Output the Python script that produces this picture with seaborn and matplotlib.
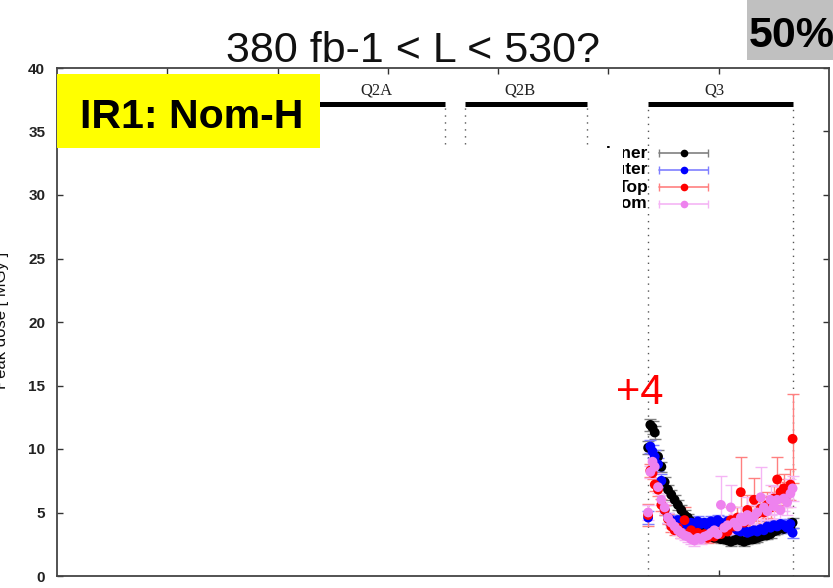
import numpy as np
import pandas as pd
import matplotlib
matplotlib.use("Agg")
import matplotlib.pyplot as plt
from matplotlib.patches import Rectangle
from matplotlib.lines import Line2D
import seaborn as sns

# ---------------- data ----------------
x_pos = [53.6, 53.8, 54.0, 54.2, 54.5, 54.8, 55.1, 55.4, 55.7, 56.0, 56.3, 56.6,
         56.9, 57.2, 57.5, 57.8, 58.1, 58.4, 58.7, 59.0, 59.3, 59.6, 59.9, 60.2,
         60.5, 60.8, 61.1, 61.4, 61.7, 62.0, 62.3, 62.6, 62.9, 63.2, 63.5, 63.8,
         64.1, 64.4, 64.7, 65.0, 65.3, 65.6, 65.9, 66.2, 66.5, 66.7]

inner = [10.1, 11.9, 11.7, 11.3, 9.4, 8.6, 7.4, 6.8, 6.4, 6.0, 5.6, 5.2,
         4.8, 4.6, 4.3, 4.0, 3.7, 3.5, 3.3, 3.2, 3.1, 3.0, 3.0, 2.9,
         2.9, 2.8, 2.7, 2.8, 2.9, 2.8, 2.7, 2.8, 2.9, 2.9, 3.0, 3.1,
         3.2, 3.2, 3.3, 3.5, 3.6, 3.8, 3.7, 3.9, 3.8, 4.2]
inner_err = [0.5, 0.5, 0.5, 0.5, 0.5, 0.4, 0.4, 0.4, 0.4, 0.4, 0.4, 0.4,
             0.4, 0.3, 0.3, 0.3, 0.3, 0.3, 0.3, 0.3, 0.3, 0.3, 0.3, 0.3,
             0.3, 0.3, 0.3, 0.3, 0.3, 0.3, 0.3, 0.3, 0.3, 0.3, 0.3, 0.3,
             0.3, 0.3, 0.3, 0.3, 0.3, 0.3, 0.3, 0.3, 0.3, 0.4]

outer = [4.6, 10.2, 9.8, 9.4, 8.8, 7.5, 5.2, 4.6, 4.4, 4.2, 4.4, 4.1,
         4.3, 4.0, 4.2, 4.0, 4.3, 4.1, 4.2, 4.0, 4.3, 4.1, 4.4, 4.2,
         4.0, 4.3, 4.0, 3.8, 3.6, 3.5, 3.6, 3.4, 3.5, 3.6, 3.5, 3.7,
         3.6, 3.9, 3.8, 4.0, 3.9, 4.1, 4.0, 3.8, 4.1, 3.4]
outer_err = [0.5, 0.5, 0.5, 0.5, 0.5, 0.5, 0.4, 0.4, 0.4, 0.4, 0.4, 0.4,
             0.4, 0.4, 0.4, 0.4, 0.4, 0.4, 0.4, 0.4, 0.4, 0.4, 0.4, 0.4,
             0.4, 0.4, 0.4, 0.4, 0.4, 0.4, 0.4, 0.4, 0.4, 0.4, 0.4, 0.4,
             0.4, 0.4, 0.4, 0.4, 0.4, 0.4, 0.4, 0.4, 0.4, 0.4]

top = [4.8, 8.3, 8.1, 7.2, 6.8, 5.6, 5.2, 4.5, 3.9, 3.6, 3.8, 3.4,
       4.4, 3.3, 3.6, 3.2, 3.4, 3.1, 3.3, 3.0, 3.2, 3.1, 3.4, 3.3,
       3.8, 3.5, 4.4, 3.9, 4.6, 6.6, 4.2, 5.2, 4.7, 6.0, 4.9, 5.3,
       5.0, 5.6, 5.4, 6.1, 7.6, 6.6, 6.9, 6.4, 7.2, 10.8]
top_err = [0.9, 0.5, 0.5, 0.5, 0.5, 0.5, 0.4, 0.4, 0.4, 0.4, 0.4, 0.4,
           1.0, 0.4, 0.4, 0.4, 0.4, 0.4, 0.4, 0.4, 0.4, 0.4, 0.5, 0.4,
           0.6, 0.5, 1.0, 0.6, 0.8, 2.8, 0.7, 1.2, 0.8, 1.7, 0.8, 0.9,
           0.8, 1.0, 0.9, 1.0, 1.8, 1.0, 1.1, 1.0, 1.2, 3.5]

bottom = [5.0, 8.2, 9.0, 8.6, 7.0, 6.0, 5.4, 4.6, 4.2, 3.9, 3.6, 3.4,
          3.2, 3.1, 2.9, 2.8, 3.0, 2.9, 3.1, 3.2, 3.4, 3.6, 3.3, 5.6,
          3.8, 4.0, 5.4, 4.2, 3.9, 4.6, 4.3, 4.8, 4.4, 4.7, 5.0, 6.2,
          5.4, 5.1, 6.0, 5.5, 6.0, 5.2, 6.1, 5.8, 6.5, 6.9]
bottom_err = [0.6, 0.5, 0.5, 0.5, 0.5, 0.4, 0.4, 0.4, 0.4, 0.4, 0.4, 0.4,
              0.4, 0.4, 0.4, 0.4, 0.4, 0.4, 0.4, 0.4, 0.5, 0.5, 0.5, 2.3,
              0.6, 0.6, 1.8, 0.7, 0.6, 0.8, 0.7, 1.4, 0.8, 0.9, 0.9, 2.4,
              1.0, 0.9, 1.2, 1.0, 1.1, 1.0, 1.0, 1.0, 1.1, 1.0]

series_names = ["Inner", "Outer", "Top", "Bottom"]
series_colors = ["#000000", "#0000ff", "#ff0000", "#ee82ee"]
series_err_colors = ["#808080", "#7f7fff", "#ff8080", "#f5b5f5"]

region_names = ["Q2A", "Q2B", "Q3"]
region_start = [22.9, 37.0, 53.6]
region_end = [35.2, 48.1, 66.7]
region_label_pos = [29.0, 42.0, 59.6]
region_dash_bottom = [[None, 34.0], [34.0, 34.0], [0.0, 0.0]]
bar_level = 37.2
label_level = 38.2

y_ticks = [0, 5, 10, 15, 20, 25, 30, 35, 40]

# ---------------- style ----------------
sns.set_theme(style="white")
plt.rcParams["font.family"] = ["Liberation Sans", "DejaVu Sans"]

W, H = 833, 588
fig = plt.figure(figsize=(W / 100, H / 100), dpi=100)
ax = fig.add_axes([57 / W, 12 / H, 772 / W, 508 / H])

def fx(px):
    return px / W

def fy(py):
    return 1 - py / H

# data frame for seaborn
values = [inner, outer, top, bottom]
errs = [inner_err, outer_err, top_err, bottom_err]
df = pd.concat([pd.DataFrame({"pos": x_pos, "dose": v, "err": e, "series": n})
                for n, v, e in zip(series_names, values, errs)], ignore_index=True)

for n, ec in zip(series_names, series_err_colors):
    sub = df[df["series"] == n]
    ax.errorbar(sub["pos"], sub["dose"], yerr=sub["err"], fmt="none",
                ecolor=ec, elinewidth=1.0, capsize=4, capthick=1.0, zorder=2)

sns.scatterplot(data=df, x="pos", y="dose", hue="series",
                palette=dict(zip(series_names, series_colors)),
                s=50, linewidth=0, legend=False, ax=ax, zorder=3)

# magnet regions
for name, s, e, lp, db in zip(region_names, region_start, region_end,
                              region_label_pos, region_dash_bottom):
    ax.hlines(bar_level, s, e, colors="black", linewidth=3.6, zorder=4)
    ax.text(lp, label_level, name, ha="center", va="center",
            family=["Liberation Serif", "DejaVu Serif"], fontsize=12, color="#222222")
    for xx, yb in zip([s, e], db):
        if yb is not None:
            ax.vlines(xx, yb, bar_level, colors="#555555", linewidth=1.0,
                      linestyles=(0, (1, 4)), zorder=1)

ax.set_xlim(0, 70)
ax.set_ylim(0, 40)
ax.set_yticks(y_ticks)
ax.set_yticklabels([str(t) for t in y_ticks], fontweight="bold", fontsize=11)
ax.set_xticks([60])
ax.set_xticklabels([])
ax.set_xlabel("")
ax.set_ylabel("")
ax.tick_params(axis="y", direction="in", length=4.5, width=1, left=True, right=True,
               pad=8.5, colors="#333333", labelcolor="#222222")
ax.tick_params(axis="x", direction="in", length=4.5, width=1, bottom=True, colors="#333333")
secx = ax.secondary_xaxis("top")
secx.set_xticks([10, 20, 30, 40, 50, 60])
secx.set_xticklabels([])
secx.tick_params(direction="in", length=4.5, width=1, colors="#333333")
secx.spines["top"].set_visible(False)
for sp in ax.spines.values():
    sp.set_color("#444444")
    sp.set_linewidth(1.3)

# y label (partly cut at the figure edge)
fig.text(fx(2), fy(320), "Peak dose [ MGy ]", rotation=90, ha="center", va="center",
         fontsize=12, color="#111111")

# title
fig.text(fx(413), fy(62), "380 fb-1 < L < 530?", ha="center", va="baseline",
         fontsize=31, color="#111111")

# 50% box
fig.add_artist(Rectangle((fx(747), fy(60)), 86 / W, 60 / H, transform=fig.transFigure,
                         facecolor="#c0c0c0", edgecolor="none", zorder=5))
fig.text(fx(749), fy(47), "50%", ha="left", va="baseline", fontsize=31,
         fontweight="bold", color="black", zorder=6)

# yellow box
fig.add_artist(Rectangle((fx(57), fy(148)), 263 / W, 74 / H, transform=fig.transFigure,
                         facecolor="#ffff00", edgecolor="none", zorder=5))
fig.text(fx(192), fy(128), "IR1: Nom-H", ha="center", va="baseline", fontsize=29.5,
         fontweight="bold", color="black", zorder=6)

# +4
fig.text(fx(616), fy(404), "+4", ha="left", va="baseline", fontsize=30, color="red", zorder=6)

# legend (manual, gnuplot style)
rows = [153, 170, 187, 204]
for n, c, ec, ry in zip(series_names, series_colors, series_err_colors, rows):
    fig.text(fx(648), fy(ry), n, ha="right", va="center", fontsize=12.5,
             fontweight="bold", color="black", zorder=6)
    fig.add_artist(Line2D([fx(659), fx(708)], [fy(ry), fy(ry)], color=ec, lw=1.2,
                          transform=fig.transFigure, zorder=6))
    fig.add_artist(Line2D([fx(659), fx(708)], [fy(ry), fy(ry)], color=ec, lw=0,
                          marker="|", markersize=6, transform=fig.transFigure, zorder=6))
    fig.add_artist(Line2D([fx(684)], [fy(ry)], color=c, lw=0, marker="o",
                          markersize=5.5, markeredgewidth=0, transform=fig.transFigure, zorder=7))

# white patch that hides the left part of the legend labels
fig.add_artist(Rectangle((fx(580), fy(214)), 43 / W, 66 / H, transform=fig.transFigure,
                         facecolor="white", edgecolor="none", zorder=10))

fig.savefig("out.png", dpi=100)
